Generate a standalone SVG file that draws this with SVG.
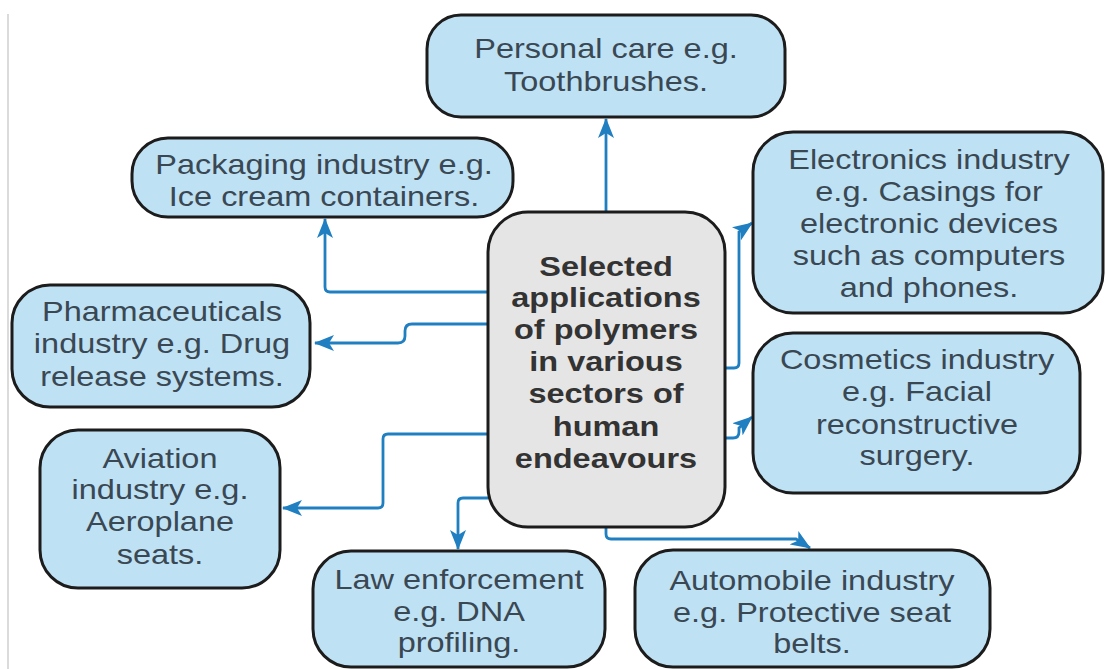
<svg xmlns="http://www.w3.org/2000/svg" width="1106" height="669" viewBox="0 0 1106 669">
  <style>
    .box { fill: #bfe1f4; stroke: #1c1c1c; stroke-width: 3; }
    .core { fill: #e5e5e5; stroke: #1c1c1c; stroke-width: 3; }
    .lbl { font-family: "Liberation Sans", Arial, sans-serif; font-size: 28px; fill: #3a4853; text-anchor: middle; }
    .bold { font-weight: bold; fill: #333333; }
    .edge { fill: none; stroke: #1f7fc1; stroke-width: 2.8; marker-end: url(#arr); }
  </style>
  <defs>
    <marker id="arr" viewBox="0 0 20 16" refX="19" refY="8" markerWidth="20" markerHeight="16" orient="auto" markerUnits="userSpaceOnUse">
      <path d="M0,0 L20,8 L0,16 L5,8 z" fill="#1f7fc1"/>
    </marker>
  </defs>
  <rect width="1106" height="669" fill="#ffffff"/>
  <line x1="8" y1="14" x2="8" y2="669" stroke="#cfcfcf" stroke-width="1.5"/>

  <g id="connectors">
    <path class="edge" d="M606,212 V119"/>
    <path class="edge" d="M488,292 H330 Q325,292 325,287 V219"/>
    <path class="edge" d="M488,324 H412 Q405,324 405,331 V336 Q405,343 398,343 H315"/>
    <path class="edge" d="M488,434 H388 Q383,434 383,439 V503 Q383,508 378,508 H283"/>
    <path class="edge" d="M488,498 H463 Q458,498 458,503 V549"/>
    <path class="edge" d="M606,527 V534 Q606,539 611,539 H796 L810,548"/>
    <path class="edge" d="M725,368 H734 Q739,368 739,363 V232 L752,223"/>
    <path class="edge" d="M725,438 H733 Q739,438 739,432 V428 L752,417"/>
  </g>

  <g id="personal">
    <rect class="box" x="427" y="15" width="358" height="102" rx="34"/>
    <text class="lbl" transform="translate(606 0) scale(1.16 1)"><tspan x="0" y="58">Personal care e.g.</tspan><tspan x="0" y="91">Toothbrushes.</tspan></text>
  </g>

  <g id="packaging">
    <rect class="box" x="132" y="138" width="381" height="79" rx="36"/>
    <text class="lbl" transform="translate(324 0) scale(1.16 1)"><tspan x="0" y="174">Packaging industry e.g.</tspan><tspan x="0" y="206">Ice cream containers.</tspan></text>
  </g>

  <g id="electronics">
    <rect class="box" x="753" y="132" width="350" height="181" rx="40"/>
    <text class="lbl" transform="translate(929 0) scale(1.16 1)"><tspan x="0" y="169">Electronics industry</tspan><tspan x="0" y="201">e.g. Casings for</tspan><tspan x="0" y="233">electronic devices</tspan><tspan x="0" y="265">such as computers</tspan><tspan x="0" y="297">and phones.</tspan></text>
  </g>

  <g id="pharma">
    <rect class="box" x="12" y="285" width="298" height="122" rx="38"/>
    <text class="lbl" transform="translate(162 0) scale(1.16 1)"><tspan x="0" y="321">Pharmaceuticals</tspan><tspan x="0" y="353">industry e.g. Drug</tspan><tspan x="0" y="386">release systems.</tspan></text>
  </g>

  <g id="center">
    <rect class="core" x="488" y="212" width="237" height="315" rx="40"/>
    <text class="lbl bold" transform="translate(606 0) scale(1.16 1)"><tspan x="0" y="276">Selected</tspan><tspan x="0" y="307">applications</tspan><tspan x="0" y="339">of polymers</tspan><tspan x="0" y="371">in various</tspan><tspan x="0" y="403">sectors of</tspan><tspan x="0" y="436">human</tspan><tspan x="0" y="468">endeavours</tspan></text>
  </g>

  <g id="cosmetics">
    <rect class="box" x="753" y="333" width="327" height="160" rx="40"/>
    <text class="lbl" transform="translate(917 0) scale(1.16 1)"><tspan x="0" y="369">Cosmetics industry</tspan><tspan x="0" y="401">e.g. Facial</tspan><tspan x="0" y="434">reconstructive</tspan><tspan x="0" y="465">surgery.</tspan></text>
  </g>

  <g id="aviation">
    <rect class="box" x="40" y="430" width="240" height="158" rx="38"/>
    <text class="lbl" transform="translate(160 0) scale(1.16 1)"><tspan x="0" y="468">Aviation</tspan><tspan x="0" y="499">industry e.g.</tspan><tspan x="0" y="531">Aeroplane</tspan><tspan x="0" y="564">seats.</tspan></text>
  </g>

  <g id="law">
    <rect class="box" x="313" y="551" width="292" height="116" rx="38"/>
    <text class="lbl" transform="translate(459 0) scale(1.16 1)"><tspan x="0" y="589">Law enforcement</tspan><tspan x="0" y="621">e.g. DNA</tspan><tspan x="0" y="652">profiling.</tspan></text>
  </g>

  <g id="automobile">
    <rect class="box" x="635" y="550" width="355" height="117" rx="38"/>
    <text class="lbl" transform="translate(812 0) scale(1.16 1)"><tspan x="0" y="590">Automobile industry</tspan><tspan x="0" y="622">e.g. Protective seat</tspan><tspan x="0" y="653">belts.</tspan></text>
  </g>
</svg>
